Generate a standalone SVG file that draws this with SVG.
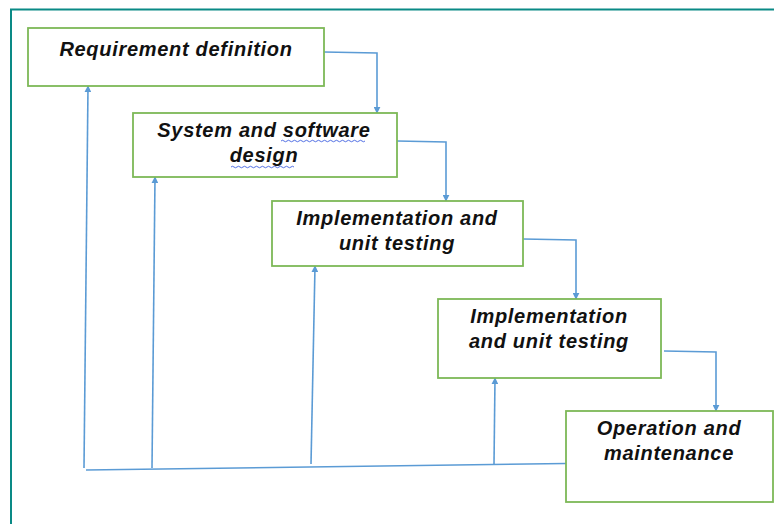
<svg xmlns="http://www.w3.org/2000/svg" width="774" height="524" viewBox="0 0 774 524">
  <style>
    .box { fill: #ffffff; stroke: #7DB857; stroke-width: 1.8; }
    .lbl { font-family: "Liberation Sans", Arial, sans-serif; font-size: 20px; font-weight: bold; font-style: italic; fill: #111111; text-anchor: middle; letter-spacing: 0.7px; }
    .con { fill: none; stroke: #5B9BD5; stroke-width: 1.6; }
    .squig { fill: none; stroke: #4060E0; stroke-width: 0.9; }
  </style>
  <defs>
    <marker id="arr" viewBox="0 0 10 10" refX="9" refY="5" markerWidth="7" markerHeight="7" markerUnits="userSpaceOnUse" orient="auto">
      <path d="M0,0 L10,5 L0,10 z" fill="#5B9BD5"/>
    </marker>
  </defs>
  <rect width="774" height="524" fill="#ffffff"/>
  <g id="frame">
    <path d="M11,524 L11,9.5 L774,9.5" fill="none" stroke="#0A8A86" stroke-width="2"/>
  </g>
  <g id="connectors">
    <path class="con" d="M324,52 L377,53 L377,113" marker-end="url(#arr)"/>
    <path class="con" d="M397,141 L446,142 L446,201" marker-end="url(#arr)"/>
    <path class="con" d="M523,239 L576,240 L576,299" marker-end="url(#arr)"/>
    <path class="con" d="M664,351 L716,352 L716,411" marker-end="url(#arr)"/>
    <path class="con" d="M86,470 L566,463.5"/>
    <path class="con" d="M84,468 L88,86" marker-end="url(#arr)"/>
    <path class="con" d="M152,468 L155,177" marker-end="url(#arr)"/>
    <path class="con" d="M311,464 L315,266" marker-end="url(#arr)"/>
    <path class="con" d="M494,464 L495,378" marker-end="url(#arr)"/>
  </g>
  <g id="n1">
    <rect class="box" x="28" y="28" width="296" height="58"/>
    <text class="lbl" x="176" y="56">Requirement definition</text>
  </g>
  <g id="n2">
    <rect class="box" x="133" y="113" width="264" height="64"/>
    <text class="lbl" x="264" y="137">System and software</text>
    <text class="lbl" x="264" y="162">design</text>
    <path class="squig" d="M281,141 q1.5,-1.5 3,0 t3,0 t3,0 t3,0 t3,0 t3,0 t3,0 t3,0 t3,0 t3,0 t3,0 t3,0 t3,0 t3,0 t3,0 t3,0 t3,0 t3,0 t3,0 t3,0 t3,0 t3,0 t3,0 t3,0 t3,0 t3,0 t3,0 t3,0"/>
    <path class="squig" d="M231,167 q1.5,-1.5 3,0 t3,0 t3,0 t3,0 t3,0 t3,0 t3,0 t3,0 t3,0 t3,0 t3,0 t3,0 t3,0 t3,0 t3,0 t3,0 t3,0 t3,0 t3,0 t3,0 t3,0"/>
  </g>
  <g id="n3">
    <rect class="box" x="272" y="201" width="251" height="65"/>
    <text class="lbl" x="397" y="225">Implementation and</text>
    <text class="lbl" x="397" y="250">unit testing</text>
  </g>
  <g id="n4">
    <rect class="box" x="438" y="299" width="223" height="79"/>
    <text class="lbl" x="549" y="323">Implementation</text>
    <text class="lbl" x="549" y="348">and unit testing</text>
  </g>
  <g id="n5">
    <rect class="box" x="566" y="411" width="207" height="91"/>
    <text class="lbl" x="669" y="435">Operation and</text>
    <text class="lbl" x="669" y="460">maintenance</text>
  </g>
</svg>
